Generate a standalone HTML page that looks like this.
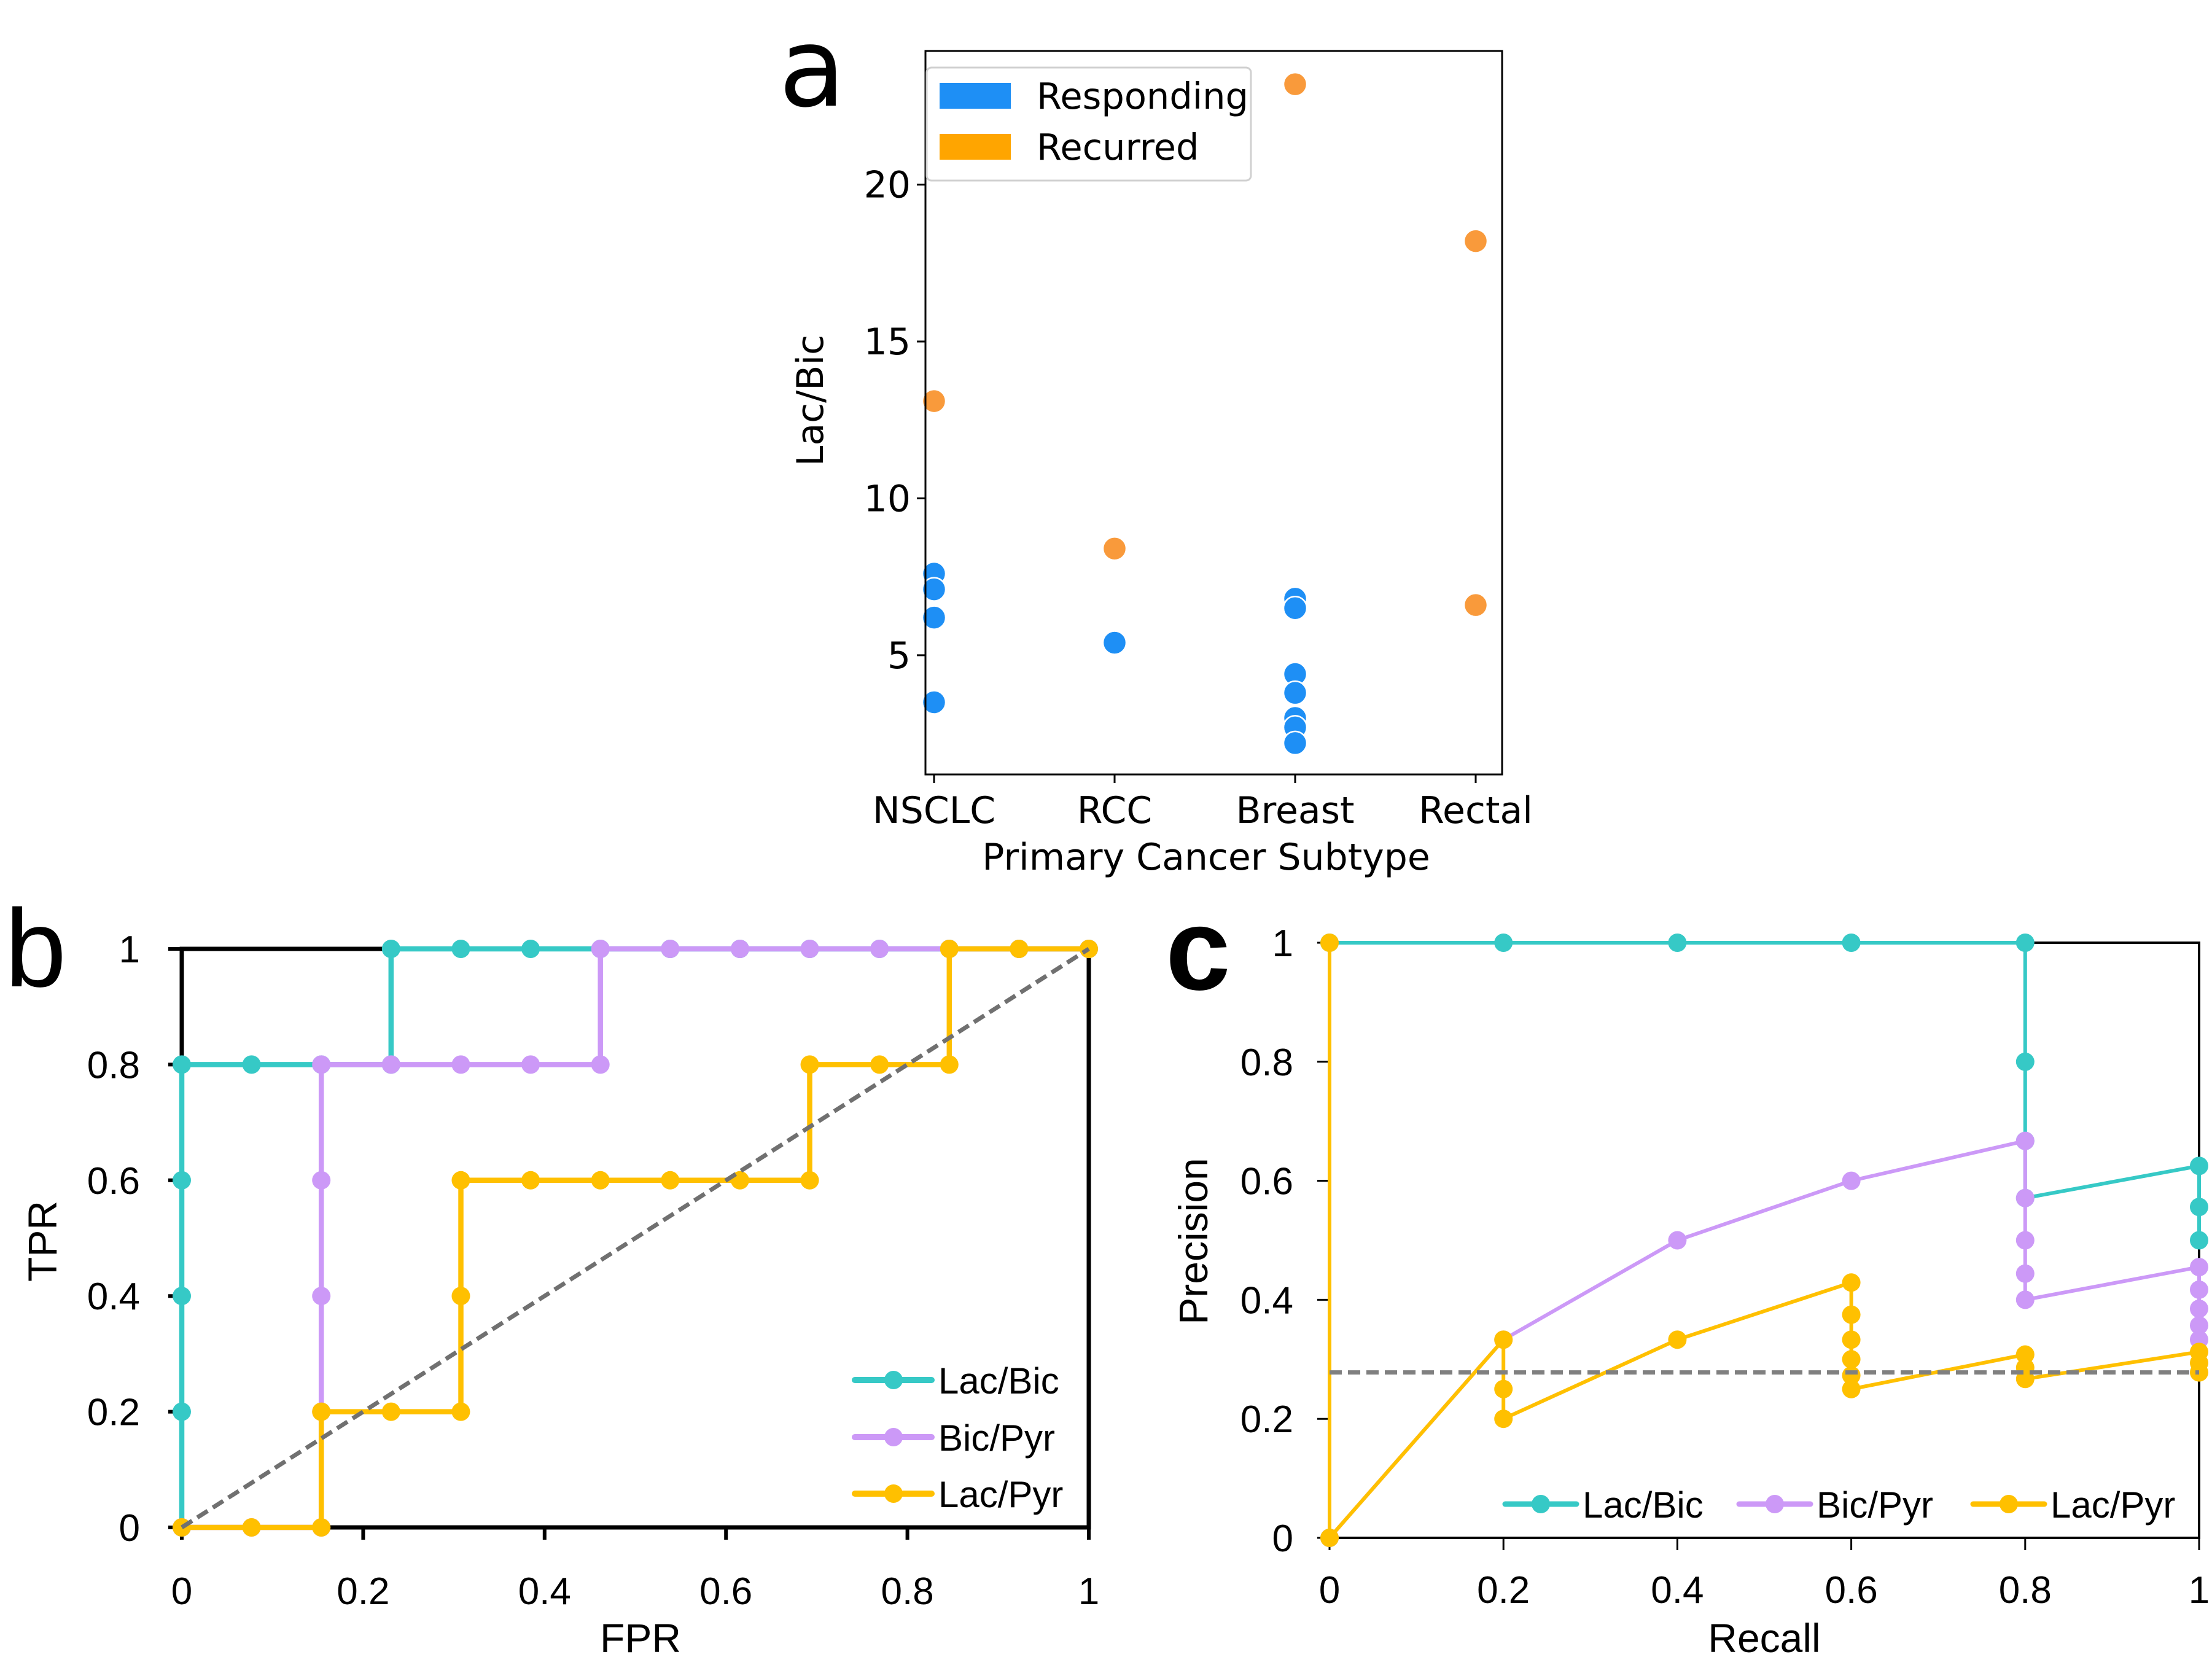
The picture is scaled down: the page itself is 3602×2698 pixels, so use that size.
<!DOCTYPE html>
<html><head><meta charset="utf-8">
<style>
html,body{margin:0;padding:0;background:#fff;}
svg{display:block;}
text{font-family:"Liberation Sans",sans-serif;fill:#000;}
.dv{font-family:"DejaVu Sans","Liberation Sans",sans-serif;}
</style></head>
<body>
<svg id="fig" width="3602" height="2698" viewBox="0 0 3602 2698" xmlns="http://www.w3.org/2000/svg">
<rect width="3602" height="2698" fill="#fff"/>
<g id="pa"></g>
<g id="pb"></g>
<g id="pc"></g>
</svg>
<script>
// ---- Panel a data ----
const aCategories = ["NSCLC","RCC","Breast","Rectal"];
const aYTicks = [5,10,15,20];
const aRespCat = [0,0,0,0,1,2,2,2,2,2,2,2];
const aRespVal = [7.6,7.1,6.2,3.5,5.4,6.8,6.5,4.4,3.8,3.0,2.7,2.2];
const aRecCat = [0,1,2,3,3];
const aRecVal = [13.1,8.4,23.2,18.2,6.6];

// ---- Panel b data (ROC) ----
const bTicks = [0,0.2,0.4,0.6,0.8,1];
const bTickLabels = ["0","0.2","0.4","0.6","0.8","1"];
const rocLacBicFPR = [0,0,0,0,0,1/13,2/13,3/13,3/13,4/13,5/13,6/13,7/13,8/13,9/13,10/13,11/13,12/13,1];
const rocLacBicTPR = [0,0.2,0.4,0.6,0.8,0.8,0.8,0.8,1,1,1,1,1,1,1,1,1,1,1];
const rocBicPyrFPR = [0,1/13,2/13,2/13,2/13,2/13,2/13,3/13,4/13,5/13,6/13,6/13,7/13,8/13,9/13,10/13,11/13,12/13,1];
const rocBicPyrTPR = [0,0,0,0.2,0.4,0.6,0.8,0.8,0.8,0.8,0.8,1,1,1,1,1,1,1,1];
const rocLacPyrFPR = [0,1/13,2/13,2/13,3/13,4/13,4/13,4/13,5/13,6/13,7/13,8/13,9/13,9/13,10/13,11/13,11/13,12/13,1];
const rocLacPyrTPR = [0,0,0,0.2,0.2,0.2,0.4,0.6,0.6,0.6,0.6,0.6,0.6,0.8,0.8,0.8,1,1,1];

// ---- Panel c data (PR) ----
const prLacBicRec = [0,0,0.2,0.4,0.6,0.8,0.8,0.8,0.8,1,1,1];
const prLacBicPrec = [0,1,1,1,1,1,0.8,0.667,0.571,0.625,0.556,0.5];
const prBicPyrRec = [0,0.2,0.4,0.6,0.8,0.8,0.8,0.8,0.8,1,1,1,1,1];
const prBicPyrPrec = [0,0.333,0.5,0.6,0.667,0.571,0.5,0.444,0.4,0.455,0.417,0.385,0.357,0.333];
const prLacPyrRec = [0,0,0.2,0.2,0.2,0.4,0.6,0.6,0.6,0.6,0.6,0.6,0.8,0.8,0.8,1,1,1];
const prLacPyrPrec = [1,0,0.333,0.25,0.2,0.333,0.429,0.375,0.333,0.3,0.273,0.25,0.308,0.286,0.267,0.3125,0.294,0.278];
const prBaseline = [0.278];

const NS="http://www.w3.org/2000/svg";
function mk(parent,tag,attrs,txt){const e=document.createElementNS(NS,tag);for(const k in attrs)e.setAttribute(k,attrs[k]);if(txt!==undefined)e.textContent=txt;parent.appendChild(e);return e;}

// ===== Panel a =====
(function(){
  const g=document.getElementById('pa');
  const L=1507,R=2446,T=83,B=1261;
  const ymin=1.2,ymax=24.26;
  const x=i=>1521+i*294;
  const y=v=>B-(v-ymin)/(ymax-ymin)*(B-T);
  let t=mk(g,'text',{x:1268,y:172,'font-size':178,class:'dv'},'a');
  
  aYTicks.forEach(v=>{
    let l=mk(g,'line',{x1:L-14,x2:L,y1:y(v),y2:y(v),stroke:'#000','stroke-width':3});
    
    let tx=mk(g,'text',{x:L-24,y:y(v)+21,'font-size':60,'text-anchor':'end',class:'dv'},String(v));
    
  });
  aCategories.forEach((c,i)=>{
    let l=mk(g,'line',{x1:x(i),x2:x(i),y1:B,y2:B+14,stroke:'#000','stroke-width':3});
    
    let tx=mk(g,'text',{x:x(i),y:1340,'font-size':60,'text-anchor':'middle',class:'dv'},c);
    
  });
  let xl=mk(g,'text',{x:1964,y:1416,'font-size':60,'text-anchor':'middle',class:'dv'},'Primary Cancer Subtype');
  
  let yl=mk(g,'text',{x:0,y:0,'font-size':60,'text-anchor':'middle',class:'dv',transform:'translate(1340,652) rotate(-90)'},'Lac/Bic');
  
  aRespVal.forEach((v,i)=>{
    let c=mk(g,'circle',{cx:x(aRespCat[i]),cy:y(v),r:19,fill:'#1e8ff5',stroke:'#fff','stroke-width':2.5});
    
  });
  aRecVal.forEach((v,i)=>{
    let c=mk(g,'circle',{cx:x(aRecCat[i]),cy:y(v),r:19,fill:'#f99a3b',stroke:'#fff','stroke-width':2.5});
    
  });
  let fr=mk(g,'rect',{x:L,y:T,width:R-L,height:B-T,fill:'none',stroke:'#000','stroke-width':3});
  
  const lg=mk(g,'g',{});
  
  mk(lg,'rect',{x:1509,y:110,width:528,height:184,rx:8,fill:'#fff',stroke:'#d0d0d0','stroke-width':3});
  let p1=mk(lg,'rect',{x:1530,y:135,width:116,height:42,fill:'#1e8ff5'});
  
  let p2=mk(lg,'rect',{x:1530,y:218,width:116,height:42,fill:'#ffa500'});
  
  let t1=mk(lg,'text',{x:1688,y:177,'font-size':59,class:'dv'},'Responding');
  
  let t2=mk(lg,'text',{x:1688,y:260,'font-size':59,class:'dv'},'Recurred');
  
})();

function drawSeries(g,xs,ys,X,Y,color,lw,r,name){
  const s=mk(g,'g',{});
  
  let d=xs.map((v,i)=>(i?'L':'M')+X(v).toFixed(1)+' '+Y(ys[i]).toFixed(1)).join(' ');
  mk(s,'path',{d:d,fill:'none',stroke:color,'stroke-width':lw,'stroke-linejoin':'miter'});
  xs.forEach((v,i)=>{
    let c=mk(s,'circle',{cx:X(v),cy:Y(ys[i]),r:r,fill:color});
    
  });
}

// ===== Panel b =====
(function(){
  const g=document.getElementById('pb');
  const L=296,R=1773,T=1545,B=2487;
  const X=v=>L+v*(R-L), Y=v=>B-v*(B-T);
  let t=mk(g,'text',{x:8,y:1606,'font-size':180},'b');
  
  bTicks.forEach((v,i)=>{
    let l=mk(g,'line',{x1:L-22,x2:L,y1:Y(v),y2:Y(v),stroke:'#000','stroke-width':6});
    
    let tx=mk(g,'text',{x:228,y:Y(v)+22,'font-size':62,'text-anchor':'end'},bTickLabels[i]);
    
    let l2=mk(g,'line',{x1:X(v),x2:X(v),y1:B,y2:B+20,stroke:'#000','stroke-width':6});
    
    let tx2=mk(g,'text',{x:X(v),y:2612,'font-size':62,'text-anchor':'middle'},bTickLabels[i]);
    
  });
  let fr=mk(g,'rect',{x:L,y:T,width:R-L,height:B-T,fill:'none',stroke:'#000','stroke-width':7});
  
  let xl=mk(g,'text',{x:1043,y:2690,'font-size':66,'text-anchor':'middle'},'FPR');
  
  let yl=mk(g,'text',{x:0,y:0,'font-size':66,'text-anchor':'middle',transform:'translate(92,2021) rotate(-90)'},'TPR');
  
  drawSeries(g,rocLacBicFPR,rocLacBicTPR,X,Y,'#36c9c6',8.5,15,'series-lac-bic');
  drawSeries(g,rocBicPyrFPR,rocBicPyrTPR,X,Y,'#cc99f7',8.5,15,'series-bic-pyr');
  drawSeries(g,rocLacPyrFPR,rocLacPyrTPR,X,Y,'#ffc000',8.5,15,'series-lac-pyr');
  let dl=mk(g,'line',{x1:X(0),y1:Y(0),x2:X(1),y2:Y(1),stroke:'#707070','stroke-width':7,'stroke-dasharray':'20 10'});
  
  const names=['Lac/Bic','Bic/Pyr','Lac/Pyr'],cols=['#36c9c6','#cc99f7','#ffc000'],ys=[2247,2340,2432];
  names.forEach((n,i)=>{
    const e=mk(g,'g',{});
    
    mk(e,'line',{x1:1392,x2:1517,y1:ys[i],y2:ys[i],stroke:cols[i],'stroke-width':10,'stroke-linecap':'round'});
    mk(e,'circle',{cx:1455,cy:ys[i],r:15,fill:cols[i]});
    mk(e,'text',{x:1528,y:ys[i]+22,'font-size':60},n);
  });
})();

// ===== Panel c =====
(function(){
  const g=document.getElementById('pc');
  const L=2165,R=3581,T=1535,B=2504;
  const X=v=>L+v*(R-L), Y=v=>B-v*(B-T);
  let t=mk(g,'text',{x:1898,y:1611,'font-size':190,'font-weight':'bold'},'c');
  
  bTicks.forEach((v,i)=>{
    let l=mk(g,'line',{x1:L-20,x2:L,y1:Y(v),y2:Y(v),stroke:'#000','stroke-width':3});
    
    let tx=mk(g,'text',{x:2106,y:Y(v)+22,'font-size':62,'text-anchor':'end'},bTickLabels[i]);
    
    let l2=mk(g,'line',{x1:X(v),x2:X(v),y1:B,y2:B+20,stroke:'#000','stroke-width':3});
    
    let tx2=mk(g,'text',{x:X(v),y:2610,'font-size':62,'text-anchor':'middle'},bTickLabels[i]);
    
  });
  let fr=mk(g,'rect',{x:L,y:T,width:R-L,height:B-T,fill:'none',stroke:'#000','stroke-width':4});
  
  let xl=mk(g,'text',{x:2873,y:2690,'font-size':66,'text-anchor':'middle'},'Recall');
  
  let yl=mk(g,'text',{x:0,y:0,'font-size':66,'text-anchor':'middle',transform:'translate(1966,2021) rotate(-90)'},'Precision');
  
  drawSeries(g,prLacBicRec,prLacBicPrec,X,Y,'#36c9c6',6,15,'series-lac-bic');
  drawSeries(g,prBicPyrRec,prBicPyrPrec,X,Y,'#cc99f7',6,15,'series-bic-pyr');
  drawSeries(g,prLacPyrRec,prLacPyrPrec,X,Y,'#ffc000',6,15,'series-lac-pyr');
  let dl=mk(g,'line',{x1:X(0),y1:Y(prBaseline[0]),x2:X(1),y2:Y(prBaseline[0]),stroke:'#808080','stroke-width':7,'stroke-dasharray':'20 10'});
  
  const names=['Lac/Bic','Bic/Pyr','Lac/Pyr'],cols=['#36c9c6','#cc99f7','#ffc000'],xs=[2451,2832,3213];
  names.forEach((n,i)=>{
    const e=mk(g,'g',{});
    
    mk(e,'line',{x1:xs[i],x2:xs[i]+116,y1:2449,y2:2449,stroke:cols[i],'stroke-width':9,'stroke-linecap':'round'});
    mk(e,'circle',{cx:xs[i]+58,cy:2449,r:15,fill:cols[i]});
    mk(e,'text',{x:xs[i]+126,y:2471,'font-size':60},n);
  });
})();
</script>
</body></html>
